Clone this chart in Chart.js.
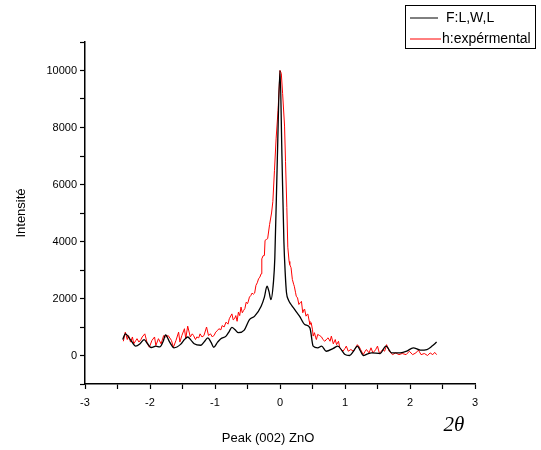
<!DOCTYPE html>
<html>
<head>
<meta charset="utf-8">
<script src="https://cdn.jsdelivr.net/npm/chart.js@4/dist/chart.umd.min.js"></script>
<style>
  html, body { margin: 0; padding: 0; background: #fff; }
  #wrap { width: 541px; height: 450px; }
</style>
</head>
<body>
<div id="wrap"><canvas id="peak" width="541" height="450"></canvas></div>
<script>
// fitted curve (F:L,W,L)
var fitX = [-2.42, -2.38, -2.30, -2.22, -2.15, -2.09, -2.04, -1.98, -1.91, -1.85, -1.80, -1.76, -1.70, -1.63, -1.53, -1.47, -1.42, -1.37, -1.32, -1.22, -1.17, -1.11, -1.06, -1.02, -0.96, -0.91, -0.83, -0.78, -0.74, -0.69, -0.64, -0.55, -0.47, -0.39, -0.29, -0.24, -0.20, -0.17, -0.14, -0.10, -0.08, -0.04, 0.00, 0.03, 0.06, 0.08, 0.10, 0.13, 0.17, 0.23, 0.30, 0.38, 0.46, 0.51, 0.58, 0.64, 0.71, 0.82, 0.89, 0.95, 1.00, 1.07, 1.13, 1.19, 1.24, 1.28, 1.35, 1.41, 1.54, 1.63, 1.72, 1.85, 1.95, 2.05, 2.16, 2.26, 2.34, 2.41];
var fitY = [560, 760, 550, 330, 420, 560, 420, 280, 330, 300, 480, 720, 480, 270, 390, 560, 650, 540, 410, 360, 470, 620, 460, 290, 470, 590, 680, 850, 990, 900, 800, 890, 1260, 1380, 1730, 2050, 2430, 2250, 1960, 2600, 3400, 7000, 10000, 7000, 4000, 2900, 2200, 1950, 1790, 1600, 1380, 1090, 970, 330, 270, 330, 150, 250, 330, 180, 35, 0, 150, 330, 150, 0, 60, 90, 70, 330, 90, 90, 150, 270, 190, 210, 330, 470];

// experimental curve (h:expérmental)
var expX = [-2.41, -2.38, -2.35, -2.33, -2.30, -2.27, -2.25, -2.22, -2.20, -2.17, -2.14, -2.12, -2.08, -2.04, -2.01, -1.97, -1.93, -1.91, -1.87, -1.83, -1.79, -1.76, -1.72, -1.67, -1.64, -1.60, -1.56, -1.54, -1.51, -1.47, -1.45, -1.42, -1.38, -1.35, -1.33, -1.30, -1.28, -1.25, -1.23, -1.20, -1.17, -1.13, -1.10, -1.07, -1.04, -1.01, -0.99, -0.96, -0.94, -0.91, -0.89, -0.86, -0.83, -0.80, -0.78, -0.74, -0.72, -0.70, -0.68, -0.66, -0.64, -0.62, -0.60, -0.58, -0.56, -0.54, -0.52, -0.50, -0.49, -0.47, -0.45, -0.43, -0.41, -0.39, -0.37, -0.35, -0.33, -0.31, -0.29, -0.28, -0.26, -0.24, -0.23, -0.21, -0.19, -0.16, -0.13, -0.11, -0.085, -0.06, -0.03, 0.00, 0.02, 0.04, 0.07, 0.085, 0.105, 0.12, 0.14, 0.15, 0.17, 0.19, 0.21, 0.22, 0.24, 0.25, 0.27, 0.29, 0.31, 0.33, 0.35, 0.37, 0.38, 0.40, 0.42, 0.43, 0.45, 0.46, 0.48, 0.50, 0.51, 0.53, 0.55, 0.56, 0.58, 0.61, 0.64, 0.66, 0.69, 0.72, 0.74, 0.77, 0.79, 0.82, 0.85, 0.87, 0.90, 0.92, 0.95, 0.97, 1.00, 1.02, 1.05, 1.09, 1.13, 1.16, 1.19, 1.22, 1.24, 1.28, 1.31, 1.33, 1.37, 1.40, 1.43, 1.47, 1.50, 1.53, 1.58, 1.61, 1.64, 1.68, 1.73, 1.78, 1.83, 1.88, 1.94, 1.99, 2.04, 2.09, 2.13, 2.17, 2.22, 2.27, 2.31, 2.35, 2.38, 2.41];
var expY = [500, 820, 560, 700, 470, 650, 410, 520, 590, 470, 560, 650, 760, 410, 290, 530, 650, 350, 590, 410, 700, 650, 700, 530, 290, 530, 820, 470, 700, 940, 590, 1030, 650, 760, 700, 560, 650, 620, 760, 650, 700, 1000, 700, 760, 650, 720, 820, 880, 940, 900, 1050, 1000, 1170, 1100, 1290, 1460, 1250, 1290, 1400, 1200, 1520, 1400, 1700, 1500, 1580, 1650, 1870, 1820, 1880, 2050, 2100, 2190, 2150, 2190, 2460, 2550, 2690, 2750, 2870, 3390, 3500, 3510, 4040, 4070, 4100, 4600, 5000, 5400, 6500, 7600, 8600, 10000, 9900, 9200, 8050, 6800, 5200, 3800, 3300, 3190, 3080, 2670, 2500, 2430, 2200, 2080, 2020, 1790, 1850, 1900, 1500, 1620, 1610, 1380, 1450, 1440, 1200, 1090, 1150, 900, 680, 800, 620, 560, 740, 700, 650, 560, 500, 580, 620, 500, 680, 410, 560, 380, 500, 270, 200, 150, 250, 330, 150, 210, 150, 250, 380, 300, 210, 30, 150, 210, 90, 270, 90, 200, 330, 70, 210, 150, 380, 150, 30, 90, 30, 70, 30, 150, 30, 90, 190, 30, 70, 0, 90, 30, 110, 30];

var legendNames = ['F:L,W,L', 'h:expérmental'];
var lineColors = ['#000000', '#ff0000'];

function toPoints(xs, ys) {
	return xs.map(function(x, i) { return {x: x, y: ys[i]}; });
}

var fontFamily = '"Liberation Sans", Arial, sans-serif';

// legend box, x title and the 2θ label
var extras = {
	id: 'extras',
	afterDraw: function(chart) {
		var ctx = chart.ctx;
		ctx.save();
		ctx.strokeStyle = '#000';
		ctx.lineWidth = 1;
		ctx.strokeRect(405.5, 5.5, 130, 43);
		ctx.font = '14px ' + fontFamily;
		ctx.textBaseline = 'middle';
		ctx.fillStyle = '#000';
		ctx.strokeStyle = lineColors[0];
		ctx.beginPath(); ctx.moveTo(410, 18); ctx.lineTo(438, 18); ctx.stroke();
		ctx.fillText(legendNames[0], 446, 18);
		ctx.strokeStyle = lineColors[1];
		ctx.beginPath(); ctx.moveTo(410, 39); ctx.lineTo(441, 39); ctx.stroke();
		ctx.fillText(legendNames[1], 442, 39);

		ctx.textAlign = 'center';
		ctx.font = '13px ' + fontFamily;
		ctx.fillText('Peak (002) ZnO', 268, 438);

		ctx.font = 'italic 21px "Liberation Serif", serif';
		ctx.fillText('2\u03b8', 454, 425);
		ctx.restore();
	}
};

var chart = new Chart(document.getElementById('peak'), {
	type: 'line',
	data: {
		datasets: [
			{
				label: legendNames[0],
				data: toPoints(fitX, fitY),
				borderColor: lineColors[0],
				borderWidth: 1.3,
				pointRadius: 0,
				fill: false,
				cubicInterpolationMode: 'monotone'
			},
			{
				label: legendNames[1],
				data: toPoints(expX, expY),
				borderColor: lineColors[1],
				borderWidth: 1,
				pointRadius: 0,
				fill: false,
				tension: 0
			}
		]
	},
	plugins: [extras],
	options: {
		responsive: false,
		animation: false,
		events: [],
		layout: { padding: { top: 42, right: 66, left: 0, bottom: 0 } },
		plugins: { legend: { display: false }, tooltip: { enabled: false } },
		scales: {
			x: {
				type: 'linear',
				min: -3,
				max: 3,
				afterFit: function(s) { s.height = 66; },
				border: { color: '#000', width: 1.5 },
				grid: { drawOnChartArea: false, color: '#000', tickLength: 5, tickWidth: 1.2 },
				ticks: {
					stepSize: 0.5,
					padding: 7,
					color: '#000',
					maxRotation: 0,
					font: { family: fontFamily, size: 11 },
					callback: function(v) { return Number.isInteger(v) ? String(v) : ''; }
				}
			},
			y: {
				min: -1000,
				max: 11000,
				afterFit: function(s) { s.width = 85; },
				border: { color: '#000', width: 1.5 },
				grid: { drawOnChartArea: false, color: '#000', tickLength: 5, tickWidth: 1.2 },
				ticks: {
					stepSize: 1000,
					padding: 3,
					color: '#000',
					font: { family: fontFamily, size: 11 },
					callback: function(v) { return (v >= 0 && v % 2000 === 0) ? String(v) : ''; }
				},
				title: {
					display: true,
					text: 'Intensité',
					color: '#000',
					font: { family: fontFamily, size: 13 },
					padding: { top: 14 }
				}
			}
		}
	}
});
</script>
</body>
</html>
